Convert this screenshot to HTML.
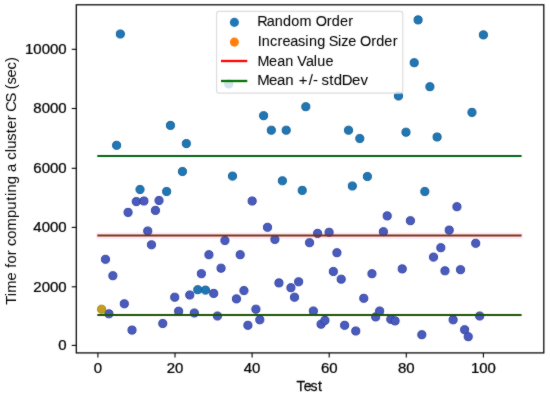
<!DOCTYPE html><html><head><meta charset="utf-8"><title>chart</title><style>html,body{margin:0;padding:0;background:#fff;width:550px;height:396px;overflow:hidden}svg{display:block}text{font-family:"Liberation Sans", sans-serif;fill:#000}</style></head><body>
<svg width="550" height="396" viewBox="0 0 550 396">
<defs><filter id="bl" color-interpolation-filters="sRGB" x="-5%" y="-5%" width="110%" height="110%"><feConvolveMatrix order="3" kernelMatrix="1 2 1 2 24 2 1 2 1" edgeMode="duplicate" preserveAlpha="false"/></filter></defs>
<rect x="0" y="0" width="550" height="396" fill="#fff"/>
<g filter="url(#bl)">
<rect x="96.30" y="232.5" width="426.30" height="6.5" fill="#fdebf8"/>
<circle cx="105.47" cy="259.30" r="4.05" fill="#4a5bbf" stroke="#34439c" stroke-width="1.00"/>
<circle cx="108.91" cy="313.80" r="4.05" fill="#4a5bbf" stroke="#34439c" stroke-width="1.00"/>
<circle cx="112.87" cy="275.70" r="4.05" fill="#4a5bbf" stroke="#34439c" stroke-width="1.00"/>
<circle cx="116.61" cy="145.30" r="4.05" fill="#1f77b4" stroke="#185f95" stroke-width="1.00"/>
<circle cx="120.35" cy="34.00" r="4.05" fill="#1f77b4" stroke="#185f95" stroke-width="1.00"/>
<circle cx="124.32" cy="303.80" r="4.05" fill="#4a5bbf" stroke="#34439c" stroke-width="1.00"/>
<circle cx="128.06" cy="212.40" r="4.05" fill="#4a5bbf" stroke="#34439c" stroke-width="1.00"/>
<circle cx="132.02" cy="330.10" r="4.05" fill="#4a5bbf" stroke="#34439c" stroke-width="1.00"/>
<circle cx="136.29" cy="201.60" r="4.05" fill="#4a5bbf" stroke="#34439c" stroke-width="1.00"/>
<circle cx="140.03" cy="189.50" r="4.05" fill="#1f77b4" stroke="#185f95" stroke-width="1.00"/>
<circle cx="143.92" cy="201.00" r="4.05" fill="#4a5bbf" stroke="#34439c" stroke-width="1.00"/>
<circle cx="147.74" cy="231.00" r="4.05" fill="#4a5bbf" stroke="#34439c" stroke-width="1.00"/>
<circle cx="151.48" cy="244.80" r="4.05" fill="#4a5bbf" stroke="#34439c" stroke-width="1.00"/>
<circle cx="155.44" cy="210.40" r="4.05" fill="#4a5bbf" stroke="#34439c" stroke-width="1.00"/>
<circle cx="159.03" cy="200.50" r="4.05" fill="#4a5bbf" stroke="#34439c" stroke-width="1.00"/>
<circle cx="162.77" cy="323.50" r="4.05" fill="#4a5bbf" stroke="#34439c" stroke-width="1.00"/>
<circle cx="166.66" cy="191.50" r="4.05" fill="#1f77b4" stroke="#185f95" stroke-width="1.00"/>
<circle cx="170.48" cy="125.40" r="4.05" fill="#1f77b4" stroke="#185f95" stroke-width="1.00"/>
<circle cx="174.74" cy="297.20" r="4.05" fill="#4a5bbf" stroke="#34439c" stroke-width="1.00"/>
<circle cx="178.63" cy="311.20" r="4.05" fill="#4a5bbf" stroke="#34439c" stroke-width="1.00"/>
<circle cx="182.45" cy="171.50" r="4.05" fill="#1f77b4" stroke="#185f95" stroke-width="1.00"/>
<circle cx="186.34" cy="143.60" r="4.05" fill="#1f77b4" stroke="#185f95" stroke-width="1.00"/>
<circle cx="189.78" cy="295.00" r="4.05" fill="#4a5bbf" stroke="#34439c" stroke-width="1.00"/>
<circle cx="194.34" cy="313.00" r="4.05" fill="#4a5bbf" stroke="#34439c" stroke-width="1.00"/>
<circle cx="197.78" cy="289.70" r="4.05" fill="#1f77b4" stroke="#185f95" stroke-width="1.00"/>
<circle cx="201.37" cy="273.70" r="4.05" fill="#4a5bbf" stroke="#34439c" stroke-width="1.00"/>
<circle cx="205.49" cy="290.10" r="4.05" fill="#1f77b4" stroke="#185f95" stroke-width="1.00"/>
<circle cx="208.93" cy="254.70" r="4.05" fill="#4a5bbf" stroke="#34439c" stroke-width="1.00"/>
<circle cx="213.72" cy="293.40" r="4.05" fill="#4a5bbf" stroke="#34439c" stroke-width="1.00"/>
<circle cx="217.46" cy="316.00" r="4.05" fill="#4a5bbf" stroke="#34439c" stroke-width="1.00"/>
<circle cx="221.05" cy="268.20" r="4.05" fill="#4a5bbf" stroke="#34439c" stroke-width="1.00"/>
<circle cx="224.94" cy="240.50" r="4.05" fill="#4a5bbf" stroke="#34439c" stroke-width="1.00"/>
<circle cx="228.76" cy="84.00" r="4.05" fill="#1f77b4" stroke="#185f95" stroke-width="1.00"/>
<circle cx="232.50" cy="176.10" r="4.05" fill="#1f77b4" stroke="#185f95" stroke-width="1.00"/>
<circle cx="236.46" cy="298.90" r="4.05" fill="#4a5bbf" stroke="#34439c" stroke-width="1.00"/>
<circle cx="240.20" cy="254.70" r="4.05" fill="#4a5bbf" stroke="#34439c" stroke-width="1.00"/>
<circle cx="243.94" cy="290.60" r="4.05" fill="#4a5bbf" stroke="#34439c" stroke-width="1.00"/>
<circle cx="247.91" cy="325.30" r="4.05" fill="#4a5bbf" stroke="#34439c" stroke-width="1.00"/>
<circle cx="252.17" cy="201.00" r="4.05" fill="#4a5bbf" stroke="#34439c" stroke-width="1.00"/>
<circle cx="255.91" cy="309.20" r="4.05" fill="#4a5bbf" stroke="#34439c" stroke-width="1.00"/>
<circle cx="259.80" cy="319.80" r="4.05" fill="#4a5bbf" stroke="#34439c" stroke-width="1.00"/>
<circle cx="263.62" cy="115.70" r="4.05" fill="#1f77b4" stroke="#185f95" stroke-width="1.00"/>
<circle cx="267.51" cy="227.30" r="4.05" fill="#4a5bbf" stroke="#34439c" stroke-width="1.00"/>
<circle cx="271.32" cy="130.20" r="4.05" fill="#1f77b4" stroke="#185f95" stroke-width="1.00"/>
<circle cx="274.91" cy="239.40" r="4.05" fill="#4a5bbf" stroke="#34439c" stroke-width="1.00"/>
<circle cx="278.95" cy="282.90" r="4.05" fill="#4a5bbf" stroke="#34439c" stroke-width="1.00"/>
<circle cx="282.39" cy="180.80" r="4.05" fill="#1f77b4" stroke="#185f95" stroke-width="1.00"/>
<circle cx="286.21" cy="130.20" r="4.05" fill="#1f77b4" stroke="#185f95" stroke-width="1.00"/>
<circle cx="290.93" cy="287.70" r="4.05" fill="#4a5bbf" stroke="#34439c" stroke-width="1.00"/>
<circle cx="294.52" cy="297.20" r="4.05" fill="#4a5bbf" stroke="#34439c" stroke-width="1.00"/>
<circle cx="298.63" cy="281.80" r="4.05" fill="#4a5bbf" stroke="#34439c" stroke-width="1.00"/>
<circle cx="302.22" cy="190.40" r="4.05" fill="#1f77b4" stroke="#185f95" stroke-width="1.00"/>
<circle cx="305.81" cy="106.70" r="4.05" fill="#1f77b4" stroke="#185f95" stroke-width="1.00"/>
<circle cx="309.55" cy="242.70" r="4.05" fill="#4a5bbf" stroke="#34439c" stroke-width="1.00"/>
<circle cx="313.37" cy="311.00" r="4.05" fill="#4a5bbf" stroke="#34439c" stroke-width="1.00"/>
<circle cx="317.63" cy="233.40" r="4.05" fill="#4a5bbf" stroke="#34439c" stroke-width="1.00"/>
<circle cx="321.07" cy="324.20" r="4.05" fill="#4a5bbf" stroke="#34439c" stroke-width="1.00"/>
<circle cx="324.96" cy="320.40" r="4.05" fill="#4a5bbf" stroke="#34439c" stroke-width="1.00"/>
<circle cx="329.08" cy="232.30" r="4.05" fill="#4a5bbf" stroke="#34439c" stroke-width="1.00"/>
<circle cx="333.34" cy="271.50" r="4.05" fill="#4a5bbf" stroke="#34439c" stroke-width="1.00"/>
<circle cx="336.93" cy="252.70" r="4.05" fill="#4a5bbf" stroke="#34439c" stroke-width="1.00"/>
<circle cx="341.20" cy="279.20" r="4.05" fill="#4a5bbf" stroke="#34439c" stroke-width="1.00"/>
<circle cx="344.64" cy="325.30" r="4.05" fill="#4a5bbf" stroke="#34439c" stroke-width="1.00"/>
<circle cx="348.53" cy="130.20" r="4.05" fill="#1f77b4" stroke="#185f95" stroke-width="1.00"/>
<circle cx="352.34" cy="186.00" r="4.05" fill="#1f77b4" stroke="#185f95" stroke-width="1.00"/>
<circle cx="355.78" cy="331.00" r="4.05" fill="#4a5bbf" stroke="#34439c" stroke-width="1.00"/>
<circle cx="359.82" cy="138.50" r="4.05" fill="#1f77b4" stroke="#185f95" stroke-width="1.00"/>
<circle cx="363.79" cy="298.30" r="4.05" fill="#4a5bbf" stroke="#34439c" stroke-width="1.00"/>
<circle cx="367.38" cy="176.50" r="4.05" fill="#1f77b4" stroke="#185f95" stroke-width="1.00"/>
<circle cx="371.95" cy="273.70" r="4.05" fill="#4a5bbf" stroke="#34439c" stroke-width="1.00"/>
<circle cx="375.69" cy="316.90" r="4.05" fill="#4a5bbf" stroke="#34439c" stroke-width="1.00"/>
<circle cx="379.65" cy="311.00" r="4.05" fill="#4a5bbf" stroke="#34439c" stroke-width="1.00"/>
<circle cx="383.39" cy="231.70" r="4.05" fill="#4a5bbf" stroke="#34439c" stroke-width="1.00"/>
<circle cx="387.21" cy="215.90" r="4.05" fill="#4a5bbf" stroke="#34439c" stroke-width="1.00"/>
<circle cx="390.80" cy="319.30" r="4.05" fill="#4a5bbf" stroke="#34439c" stroke-width="1.00"/>
<circle cx="395.06" cy="320.90" r="4.05" fill="#4a5bbf" stroke="#34439c" stroke-width="1.00"/>
<circle cx="398.50" cy="96.00" r="4.05" fill="#1f77b4" stroke="#185f95" stroke-width="1.00"/>
<circle cx="402.24" cy="268.90" r="4.05" fill="#4a5bbf" stroke="#34439c" stroke-width="1.00"/>
<circle cx="405.98" cy="132.20" r="4.05" fill="#1f77b4" stroke="#185f95" stroke-width="1.00"/>
<circle cx="410.40" cy="220.70" r="4.05" fill="#4a5bbf" stroke="#34439c" stroke-width="1.00"/>
<circle cx="414.21" cy="62.70" r="4.05" fill="#1f77b4" stroke="#185f95" stroke-width="1.00"/>
<circle cx="418.10" cy="19.90" r="4.05" fill="#1f77b4" stroke="#185f95" stroke-width="1.00"/>
<circle cx="421.84" cy="334.70" r="4.05" fill="#4a5bbf" stroke="#34439c" stroke-width="1.00"/>
<circle cx="424.83" cy="191.50" r="4.05" fill="#1f77b4" stroke="#185f95" stroke-width="1.00"/>
<circle cx="429.92" cy="86.70" r="4.05" fill="#1f77b4" stroke="#185f95" stroke-width="1.00"/>
<circle cx="433.51" cy="257.10" r="4.05" fill="#4a5bbf" stroke="#34439c" stroke-width="1.00"/>
<circle cx="437.10" cy="137.00" r="4.05" fill="#1f77b4" stroke="#185f95" stroke-width="1.00"/>
<circle cx="440.84" cy="247.70" r="4.05" fill="#4a5bbf" stroke="#34439c" stroke-width="1.00"/>
<circle cx="444.96" cy="270.80" r="4.05" fill="#4a5bbf" stroke="#34439c" stroke-width="1.00"/>
<circle cx="449.23" cy="230.10" r="4.05" fill="#4a5bbf" stroke="#34439c" stroke-width="1.00"/>
<circle cx="453.12" cy="319.80" r="4.05" fill="#4a5bbf" stroke="#34439c" stroke-width="1.00"/>
<circle cx="456.93" cy="206.70" r="4.05" fill="#4a5bbf" stroke="#34439c" stroke-width="1.00"/>
<circle cx="460.52" cy="269.70" r="4.05" fill="#4a5bbf" stroke="#34439c" stroke-width="1.00"/>
<circle cx="464.64" cy="329.70" r="4.05" fill="#4a5bbf" stroke="#34439c" stroke-width="1.00"/>
<circle cx="468.23" cy="336.70" r="4.05" fill="#4a5bbf" stroke="#34439c" stroke-width="1.00"/>
<circle cx="471.97" cy="112.40" r="4.05" fill="#1f77b4" stroke="#185f95" stroke-width="1.00"/>
<circle cx="475.71" cy="243.30" r="4.05" fill="#4a5bbf" stroke="#34439c" stroke-width="1.00"/>
<circle cx="479.67" cy="316.00" r="4.05" fill="#4a5bbf" stroke="#34439c" stroke-width="1.00"/>
<circle cx="483.41" cy="34.90" r="4.05" fill="#1f77b4" stroke="#185f95" stroke-width="1.00"/>
<circle cx="101.6" cy="309.2" r="4.05" fill="#c49e1c" stroke="#a8861a" stroke-width="1"/>
<line x1="97.30" y1="235.5" x2="521.60" y2="235.5" stroke="#7a300e" stroke-width="2" stroke-linecap="butt"/>
<line x1="97.30" y1="156.0" x2="521.60" y2="156.0" stroke="#006414" stroke-width="2"/>
<line x1="97.30" y1="315.0" x2="521.60" y2="315.0" stroke="#1c5500" stroke-width="2"/>
<rect x="76.30" y="4.80" width="467.50" height="348.10" fill="none" stroke="#000" stroke-width="1.25"/>
<line x1="71.70" y1="345.40" x2="76.30" y2="345.40" stroke="#000" stroke-width="1.1"/>
<line x1="71.70" y1="286.80" x2="76.30" y2="286.80" stroke="#000" stroke-width="1.1"/>
<line x1="71.70" y1="227.40" x2="76.30" y2="227.40" stroke="#000" stroke-width="1.1"/>
<line x1="71.70" y1="168.30" x2="76.30" y2="168.30" stroke="#000" stroke-width="1.1"/>
<line x1="71.70" y1="108.50" x2="76.30" y2="108.50" stroke="#000" stroke-width="1.1"/>
<line x1="71.70" y1="49.30" x2="76.30" y2="49.30" stroke="#000" stroke-width="1.1"/>
<line x1="97.90" y1="352.90" x2="97.90" y2="357.50" stroke="#000" stroke-width="1.1"/>
<line x1="175.00" y1="352.90" x2="175.00" y2="357.50" stroke="#000" stroke-width="1.1"/>
<line x1="252.10" y1="352.90" x2="252.10" y2="357.50" stroke="#000" stroke-width="1.1"/>
<line x1="329.20" y1="352.90" x2="329.20" y2="357.50" stroke="#000" stroke-width="1.1"/>
<line x1="406.30" y1="352.90" x2="406.30" y2="357.50" stroke="#000" stroke-width="1.1"/>
<line x1="483.40" y1="352.90" x2="483.40" y2="357.50" stroke="#000" stroke-width="1.1"/>
<text transform="translate(66.60,350.35) scale(1.0851,1)" x="-7.67" y="0" font-size="13.80" style="stroke:#000;stroke-width:0.25px">0</text>
<text transform="translate(66.60,291.75) scale(1.0851,1)" x="-30.70 -23.02 -15.35 -7.67" y="0" font-size="13.80" style="stroke:#000;stroke-width:0.25px">2000</text>
<text transform="translate(66.60,232.35) scale(1.0851,1)" x="-30.70 -23.02 -15.35 -7.67" y="0" font-size="13.80" style="stroke:#000;stroke-width:0.25px">4000</text>
<text transform="translate(66.60,173.25) scale(1.0851,1)" x="-30.70 -23.02 -15.35 -7.67" y="0" font-size="13.80" style="stroke:#000;stroke-width:0.25px">6000</text>
<text transform="translate(66.60,113.45) scale(1.0851,1)" x="-30.70 -23.02 -15.35 -7.67" y="0" font-size="13.80" style="stroke:#000;stroke-width:0.25px">8000</text>
<text transform="translate(66.60,54.25) scale(1.0851,1)" x="-38.37 -30.70 -23.02 -15.35 -7.67" y="0" font-size="13.80" style="stroke:#000;stroke-width:0.25px">10000</text>
<text transform="translate(97.90,372.80) scale(1.0851,1)" x="-3.84" y="0" font-size="13.80" style="stroke:#000;stroke-width:0.25px">0</text>
<text transform="translate(175.00,372.80) scale(1.0851,1)" x="-7.67 0.00" y="0" font-size="13.80" style="stroke:#000;stroke-width:0.25px">20</text>
<text transform="translate(252.10,372.80) scale(1.0851,1)" x="-7.67 0.00" y="0" font-size="13.80" style="stroke:#000;stroke-width:0.25px">40</text>
<text transform="translate(329.20,372.80) scale(1.0851,1)" x="-7.67 0.00" y="0" font-size="13.80" style="stroke:#000;stroke-width:0.25px">60</text>
<text transform="translate(406.30,372.80) scale(1.0851,1)" x="-7.67 0.00" y="0" font-size="13.80" style="stroke:#000;stroke-width:0.25px">80</text>
<text transform="translate(483.40,372.80) scale(1.0851,1)" x="-11.51 -3.84 3.84" y="0" font-size="13.80" style="stroke:#000;stroke-width:0.25px">100</text>
<text transform="translate(309.60,390.50) scale(1.0185,1)" x="-12.94 -5.78 0.82 8.22" y="0" font-size="13.80" style="stroke:#000;stroke-width:0.25px">Test</text>
<text transform="translate(15.60,180.70) rotate(-90) scale(1.0698,1)" x="-116.02 -108.09 -104.84 -93.20 -85.57 -81.47 -77.50 -69.70 -64.86 -61.08 -54.36 -46.57 -34.81 -27.05 -18.86 -14.37 -11.10 -3.34 4.41 8.18 15.80 19.57 26.55 29.83 37.28 44.40 48.64 56.46 61.30 64.45 72.99 81.50 85.46 89.88 96.44 103.96 110.86" y="0" font-size="13.80" style="stroke:#000;stroke-width:0.0px">Time for computing a cluster CS (sec)</text>
<rect x="216.6" y="11.3" width="186.2" height="81.8" rx="2.6" ry="2.6" fill="#fff" fill-opacity="0.8" stroke="#dcdcdc" stroke-width="1.15"/>
<circle cx="234.4" cy="22.4" r="4.55" fill="#1f77b4"/>
<circle cx="234.4" cy="42.1" r="4.55" fill="#ff7f0e"/>
<line x1="221.0" y1="61.0" x2="247.3" y2="61.0" stroke="#ff0000" stroke-width="2.3"/>
<line x1="221.0" y1="81.0" x2="247.3" y2="81.0" stroke="#007000" stroke-width="2.3"/>
<text transform="translate(257.80,25.90) scale(1.0469,1)" x="-0.64 8.54 16.20 24.13 31.92 39.93 51.83 55.29 65.85 70.74 78.45 86.40" y="0" font-size="13.80" style="stroke:#000;stroke-width:0.05px">Random Order</text>
<text transform="translate(257.80,45.50) scale(1.0488,1)" x="-0.08 3.80 11.57 18.72 23.45 30.97 38.44 45.34 48.72 56.64 64.50 67.76 76.53 79.62 86.35 94.09 97.54 108.08 112.96 120.65 128.60" y="0" font-size="13.80" style="stroke:#000;stroke-width:0.05px">Increasing Size Order</text>
<text transform="translate(257.80,65.50) scale(1.0433,1)" x="-0.34 10.85 18.55 26.37 34.26 37.86 46.27 53.68 57.09 64.93" y="0" font-size="13.80" style="stroke:#000;stroke-width:0.05px">Mean Value</text>
<text transform="translate(257.80,85.10) scale(1.0847,1)" x="-0.54 10.29 17.70 25.22 32.88 37.74 46.95 50.78 55.25 58.78 65.82 70.10 77.43 86.94 94.61" y="0" font-size="13.80" style="stroke:#000;stroke-width:0.05px">Mean +/- stdDev</text>
</g></svg></body></html>
